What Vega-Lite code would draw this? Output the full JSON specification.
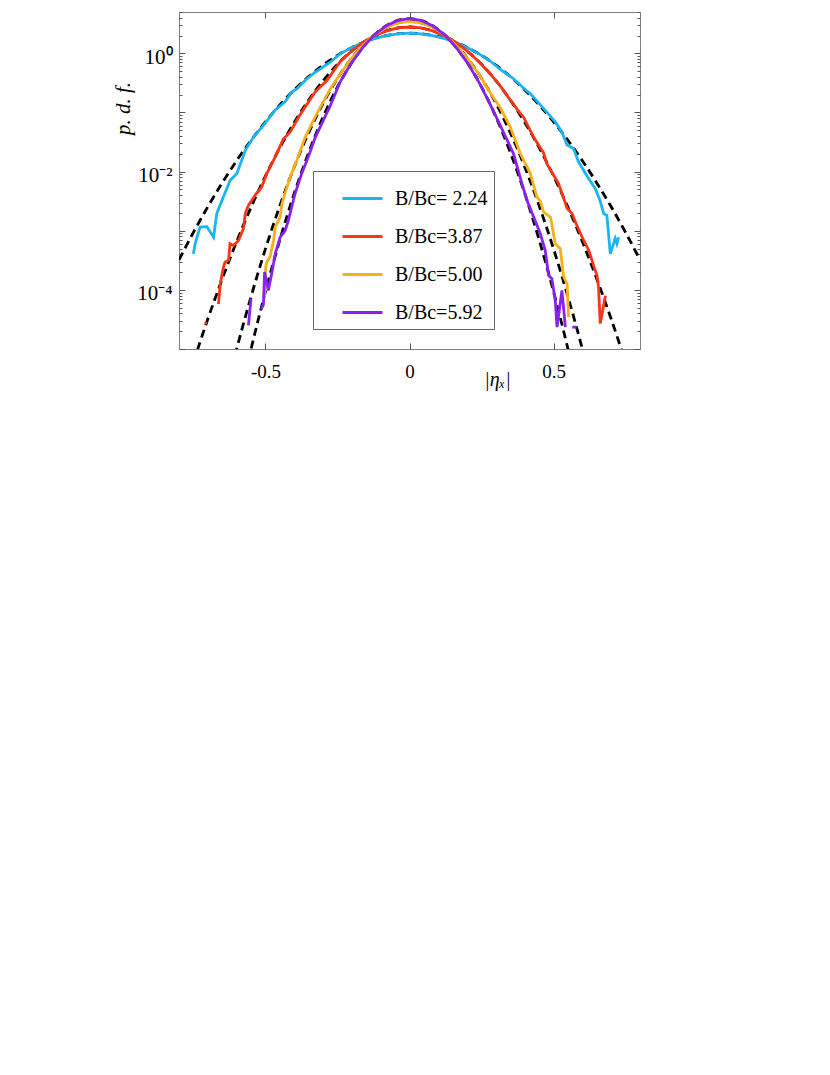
{
"$schema": "https://vega.github.io/schema/vega-lite/v6.json",
"width": 461, "height": 337,
"autosize": {"type": "none"},
"padding": {"left": 179, "top": 12, "right": 190, "bottom": 726},
"background": "white",
"config": {"view": {"stroke": "#808080", "strokeWidth": 1}, "font": "Liberation Serif"},
"datasets": {
"fits": [
{"f":"b","x":-0.8,"p":3.21e-4},{"f":"b","x":-0.75,"p":9.35e-4},{"f":"b","x":-0.7,"p":2.54e-3},{"f":"b","x":-0.65,"p":6.44e-3},{"f":"b","x":-0.6,"p":0.0153},{"f":"b","x":-0.55,"p":0.0337},{"f":"b","x":-0.5,"p":0.0695},{"f":"b","x":-0.45,"p":0.134},{"f":"b","x":-0.4,"p":0.241},{"f":"b","x":-0.35,"p":0.404},{"f":"b","x":-0.3,"p":0.632},{"f":"b","x":-0.25,"p":0.925},{"f":"b","x":-0.2,"p":1.26},{"f":"b","x":-0.15,"p":1.60},{"f":"b","x":-0.1,"p":1.91},{"f":"b","x":-0.05,"p":2.11},{"f":"b","x":0,"p":2.19},
{"f":"b","x":0.05,"p":2.11},{"f":"b","x":0.1,"p":1.91},{"f":"b","x":0.15,"p":1.60},{"f":"b","x":0.2,"p":1.26},{"f":"b","x":0.25,"p":0.925},{"f":"b","x":0.3,"p":0.632},{"f":"b","x":0.35,"p":0.404},{"f":"b","x":0.4,"p":0.241},{"f":"b","x":0.45,"p":0.134},{"f":"b","x":0.5,"p":0.0695},{"f":"b","x":0.55,"p":0.0337},{"f":"b","x":0.6,"p":0.0153},{"f":"b","x":0.65,"p":6.44e-3},{"f":"b","x":0.7,"p":2.54e-3},{"f":"b","x":0.75,"p":9.35e-4},{"f":"b","x":0.8,"p":3.21e-4},
{"f":"r","x":-0.75,"p":5.96e-6},{"f":"r","x":-0.7,"p":3.21e-5},{"f":"r","x":-0.65,"p":1.53e-4},{"f":"r","x":-0.6,"p":6.55e-4},{"f":"r","x":-0.55,"p":2.49e-3},{"f":"r","x":-0.5,"p":8.41e-3},{"f":"r","x":-0.45,"p":0.0254},{"f":"r","x":-0.4,"p":0.0679},{"f":"r","x":-0.35,"p":0.162},{"f":"r","x":-0.3,"p":0.345},{"f":"r","x":-0.25,"p":0.653},{"f":"r","x":-0.2,"p":1.10},{"f":"r","x":-0.15,"p":1.65},{"f":"r","x":-0.1,"p":2.21},{"f":"r","x":-0.05,"p":2.63},{"f":"r","x":0,"p":2.79},
{"f":"r","x":0.05,"p":2.63},{"f":"r","x":0.1,"p":2.21},{"f":"r","x":0.15,"p":1.65},{"f":"r","x":0.2,"p":1.10},{"f":"r","x":0.25,"p":0.653},{"f":"r","x":0.3,"p":0.345},{"f":"r","x":0.35,"p":0.162},{"f":"r","x":0.4,"p":0.0679},{"f":"r","x":0.45,"p":0.0254},{"f":"r","x":0.5,"p":8.41e-3},{"f":"r","x":0.55,"p":2.49e-3},{"f":"r","x":0.6,"p":6.55e-4},{"f":"r","x":0.65,"p":1.53e-4},{"f":"r","x":0.7,"p":3.21e-5},{"f":"r","x":0.75,"p":5.96e-6},
{"f":"o","x":-0.65,"p":1.09e-6},{"f":"o","x":-0.6,"p":1.0e-5},{"f":"o","x":-0.55,"p":7.66e-5},{"f":"o","x":-0.5,"p":4.92e-4},{"f":"o","x":-0.45,"p":2.65e-3},{"f":"o","x":-0.4,"p":0.012},{"f":"o","x":-0.35,"p":0.0452},{"f":"o","x":-0.3,"p":0.143},{"f":"o","x":-0.25,"p":0.378},{"f":"o","x":-0.2,"p":0.84},{"f":"o","x":-0.15,"p":1.56},{"f":"o","x":-0.1,"p":2.43},{"f":"o","x":-0.05,"p":3.18},{"f":"o","x":0,"p":3.47},
{"f":"o","x":0.05,"p":3.18},{"f":"o","x":0.1,"p":2.43},{"f":"o","x":0.15,"p":1.56},{"f":"o","x":0.2,"p":0.84},{"f":"o","x":0.25,"p":0.378},{"f":"o","x":0.3,"p":0.143},{"f":"o","x":0.35,"p":0.0452},{"f":"o","x":0.4,"p":0.012},{"f":"o","x":0.45,"p":2.65e-3},{"f":"o","x":0.5,"p":4.92e-4},{"f":"o","x":0.55,"p":7.66e-5},{"f":"o","x":0.6,"p":1.0e-5},{"f":"o","x":0.65,"p":1.09e-6},
{"f":"p","x":-0.6,"p":8.65e-7},{"f":"p","x":-0.55,"p":9.98e-6},{"f":"p","x":-0.5,"p":9.29e-5},{"f":"p","x":-0.45,"p":7.01e-4},{"f":"p","x":-0.4,"p":4.28e-3},{"f":"p","x":-0.35,"p":0.021},{"f":"p","x":-0.3,"p":0.0839},{"f":"p","x":-0.25,"p":0.27},{"f":"p","x":-0.2,"p":0.703},{"f":"p","x":-0.15,"p":1.48},{"f":"p","x":-0.1,"p":2.52},{"f":"p","x":-0.05,"p":3.47},{"f":"p","x":0,"p":3.85},
{"f":"p","x":0.05,"p":3.47},{"f":"p","x":0.1,"p":2.52},{"f":"p","x":0.15,"p":1.48},{"f":"p","x":0.2,"p":0.703},{"f":"p","x":0.25,"p":0.27},{"f":"p","x":0.3,"p":0.0839},{"f":"p","x":0.35,"p":0.021},{"f":"p","x":0.4,"p":4.28e-3},{"f":"p","x":0.45,"p":7.01e-4},{"f":"p","x":0.5,"p":9.29e-5},{"f":"p","x":0.55,"p":9.98e-6},{"f":"p","x":0.6,"p":8.65e-7}
],
"pdf": [
{"s":"B/Bc= 2.24","g":"b","x":-0.750,"p":4.07e-4},{"s":"B/Bc= 2.24","g":"b","x":-0.744,"p":6.03e-4},{"s":"B/Bc= 2.24","g":"b","x":-0.727,"p":1.15e-3},{"s":"B/Bc= 2.24","g":"b","x":-0.703,"p":1.17e-3},{"s":"B/Bc= 2.24","g":"b","x":-0.680,"p":7.76e-4},{"s":"B/Bc= 2.24","g":"b","x":-0.669,"p":1.95e-3},{"s":"B/Bc= 2.24","g":"b","x":-0.651,"p":3.24e-3},{"s":"B/Bc= 2.24","g":"b","x":-0.623,"p":7.08e-3},{"s":"B/Bc= 2.24","g":"b","x":-0.599,"p":9.33e-3},{"s":"B/Bc= 2.24","g":"b","x":-0.570,"p":0.0229},{"s":"B/Bc= 2.24","g":"b","x":-0.542,"p":0.038},{"s":"B/Bc= 2.24","g":"b","x":-0.507,"p":0.0603},{"s":"B/Bc= 2.24","g":"b","x":-0.466,"p":0.110},{"s":"B/Bc= 2.24","g":"b","x":-0.432,"p":0.151},{"s":"B/Bc= 2.24","g":"b","x":-0.408,"p":0.224},{"s":"B/Bc= 2.24","g":"b","x":-0.391,"p":0.251},{"s":"B/Bc= 2.24","g":"b","x":-0.356,"p":0.372},{"s":"B/Bc= 2.24","g":"b","x":-0.327,"p":0.479},{"s":"B/Bc= 2.24","g":"b","x":-0.275,"p":0.708},{"s":"B/Bc= 2.24","g":"b","x":-0.24,"p":0.989},{"s":"B/Bc= 2.24","g":"b","x":-0.2,"p":1.26},{"s":"B/Bc= 2.24","g":"b","x":-0.16,"p":1.54},{"s":"B/Bc= 2.24","g":"b","x":-0.12,"p":1.79},{"s":"B/Bc= 2.24","g":"b","x":-0.08,"p":2.00},{"s":"B/Bc= 2.24","g":"b","x":-0.04,"p":2.14},{"s":"B/Bc= 2.24","g":"b","x":0,"p":2.19},{"s":"B/Bc= 2.24","g":"b","x":0.04,"p":2.14},{"s":"B/Bc= 2.24","g":"b","x":0.08,"p":2.00},{"s":"B/Bc= 2.24","g":"b","x":0.12,"p":1.79},{"s":"B/Bc= 2.24","g":"b","x":0.16,"p":1.54},{"s":"B/Bc= 2.24","g":"b","x":0.2,"p":1.26},{"s":"B/Bc= 2.24","g":"b","x":0.24,"p":0.989},{"s":"B/Bc= 2.24","g":"b","x":0.28,"p":0.741},{"s":"B/Bc= 2.24","g":"b","x":0.315,"p":0.537},{"s":"B/Bc= 2.24","g":"b","x":0.361,"p":0.372},{"s":"B/Bc= 2.24","g":"b","x":0.408,"p":0.229},{"s":"B/Bc= 2.24","g":"b","x":0.419,"p":0.209},{"s":"B/Bc= 2.24","g":"b","x":0.465,"p":0.117},{"s":"B/Bc= 2.24","g":"b","x":0.506,"p":0.0692},{"s":"B/Bc= 2.24","g":"b","x":0.529,"p":0.0468},{"s":"B/Bc= 2.24","g":"b","x":0.547,"p":0.0282},{"s":"B/Bc= 2.24","g":"b","x":0.569,"p":0.0245},{"s":"B/Bc= 2.24","g":"b","x":0.587,"p":0.0145},{"s":"B/Bc= 2.24","g":"b","x":0.622,"p":7.59e-3},{"s":"B/Bc= 2.24","g":"b","x":0.645,"p":5.13e-3},{"s":"B/Bc= 2.24","g":"b","x":0.662,"p":3.16e-3},{"s":"B/Bc= 2.24","g":"b","x":0.674,"p":1.95e-3},{"s":"B/Bc= 2.24","g":"b","x":0.685,"p":1.82e-3},{"s":"B/Bc= 2.24","g":"b","x":0.697,"p":4.07e-4},{"s":"B/Bc= 2.24","g":"b","x":0.714,"p":7.41e-4},{"s":"B/Bc= 2.24","g":"b","x":0.720,"p":6.03e-4},{"s":"B/Bc= 2.24","g":"b","x":0.726,"p":7.76e-4},
{"s":"B/Bc=3.87","g":"r2","x":-0.709,"p":2.63e-5},{"s":"B/Bc=3.87","g":"r2","x":-0.705,"p":2.88e-5},
{"s":"B/Bc=3.87","g":"r","x":-0.663,"p":5.75e-5},{"s":"B/Bc=3.87","g":"r","x":-0.657,"p":1.26e-4},{"s":"B/Bc=3.87","g":"r","x":-0.646,"p":2.40e-4},{"s":"B/Bc=3.87","g":"r","x":-0.640,"p":2.95e-4},{"s":"B/Bc=3.87","g":"r","x":-0.628,"p":3.16e-4},{"s":"B/Bc=3.87","g":"r","x":-0.623,"p":6.03e-4},{"s":"B/Bc=3.87","g":"r","x":-0.611,"p":5.62e-4},{"s":"B/Bc=3.87","g":"r","x":-0.594,"p":6.76e-4},{"s":"B/Bc=3.87","g":"r","x":-0.576,"p":1.10e-3},{"s":"B/Bc=3.87","g":"r","x":-0.570,"p":1.95e-3},{"s":"B/Bc=3.87","g":"r","x":-0.559,"p":2.69e-3},{"s":"B/Bc=3.87","g":"r","x":-0.536,"p":3.98e-3},{"s":"B/Bc=3.87","g":"r","x":-0.513,"p":5.50e-3},{"s":"B/Bc=3.87","g":"r","x":-0.495,"p":9.33e-3},{"s":"B/Bc=3.87","g":"r","x":-0.466,"p":0.0178},{"s":"B/Bc=3.87","g":"r","x":-0.438,"p":0.0355},{"s":"B/Bc=3.87","g":"r","x":-0.414,"p":0.0468},{"s":"B/Bc=3.87","g":"r","x":-0.385,"p":0.0832},{"s":"B/Bc=3.87","g":"r","x":-0.356,"p":0.138},{"s":"B/Bc=3.87","g":"r","x":-0.327,"p":0.224},{"s":"B/Bc=3.87","g":"r","x":-0.287,"p":0.347},{"s":"B/Bc=3.87","g":"r","x":-0.24,"p":0.731},{"s":"B/Bc=3.87","g":"r","x":-0.2,"p":1.10},{"s":"B/Bc=3.87","g":"r","x":-0.16,"p":1.54},{"s":"B/Bc=3.87","g":"r","x":-0.12,"p":2.00},{"s":"B/Bc=3.87","g":"r","x":-0.08,"p":2.40},{"s":"B/Bc=3.87","g":"r","x":-0.04,"p":2.69},{"s":"B/Bc=3.87","g":"r","x":0,"p":2.79},{"s":"B/Bc=3.87","g":"r","x":0.04,"p":2.69},{"s":"B/Bc=3.87","g":"r","x":0.08,"p":2.40},{"s":"B/Bc=3.87","g":"r","x":0.12,"p":2.00},{"s":"B/Bc=3.87","g":"r","x":0.16,"p":1.54},{"s":"B/Bc=3.87","g":"r","x":0.2,"p":1.10},{"s":"B/Bc=3.87","g":"r","x":0.24,"p":0.731},{"s":"B/Bc=3.87","g":"r","x":0.28,"p":0.452},{"s":"B/Bc=3.87","g":"r","x":0.315,"p":0.282},{"s":"B/Bc=3.87","g":"r","x":0.35,"p":0.162},{"s":"B/Bc=3.87","g":"r","x":0.385,"p":0.0955},{"s":"B/Bc=3.87","g":"r","x":0.396,"p":0.0832},{"s":"B/Bc=3.87","g":"r","x":0.431,"p":0.038},{"s":"B/Bc=3.87","g":"r","x":0.465,"p":0.0209},{"s":"B/Bc=3.87","g":"r","x":0.477,"p":0.0135},{"s":"B/Bc=3.87","g":"r","x":0.517,"p":6.31e-3},{"s":"B/Bc=3.87","g":"r","x":0.535,"p":3.55e-3},{"s":"B/Bc=3.87","g":"r","x":0.547,"p":2.40e-3},{"s":"B/Bc=3.87","g":"r","x":0.564,"p":1.95e-3},{"s":"B/Bc=3.87","g":"r","x":0.581,"p":1.23e-3},{"s":"B/Bc=3.87","g":"r","x":0.599,"p":7.76e-4},{"s":"B/Bc=3.87","g":"r","x":0.622,"p":4.68e-4},{"s":"B/Bc=3.87","g":"r","x":0.639,"p":2.57e-4},{"s":"B/Bc=3.87","g":"r","x":0.651,"p":1.74e-4},{"s":"B/Bc=3.87","g":"r","x":0.656,"p":1.12e-4},{"s":"B/Bc=3.87","g":"r","x":0.662,"p":2.69e-5},{"s":"B/Bc=3.87","g":"r","x":0.680,"p":7.94e-5},
{"s":"B/Bc=5.00","g":"o","x":-0.503,"p":7.59e-5},{"s":"B/Bc=5.00","g":"o","x":-0.499,"p":2.45e-4},{"s":"B/Bc=5.00","g":"o","x":-0.495,"p":2.95e-4},{"s":"B/Bc=5.00","g":"o","x":-0.484,"p":3.63e-4},{"s":"B/Bc=5.00","g":"o","x":-0.472,"p":6.76e-4},{"s":"B/Bc=5.00","g":"o","x":-0.466,"p":1.15e-3},{"s":"B/Bc=5.00","g":"o","x":-0.449,"p":1.70e-3},{"s":"B/Bc=5.00","g":"o","x":-0.443,"p":2.82e-3},{"s":"B/Bc=5.00","g":"o","x":-0.432,"p":4.27e-3},{"s":"B/Bc=5.00","g":"o","x":-0.414,"p":8.13e-3},{"s":"B/Bc=5.00","g":"o","x":-0.391,"p":0.0155},{"s":"B/Bc=5.00","g":"o","x":-0.362,"p":0.038},{"s":"B/Bc=5.00","g":"o","x":-0.327,"p":0.0851},{"s":"B/Bc=5.00","g":"o","x":-0.275,"p":0.25},{"s":"B/Bc=5.00","g":"o","x":-0.24,"p":0.451},{"s":"B/Bc=5.00","g":"o","x":-0.2,"p":0.840},{"s":"B/Bc=5.00","g":"o","x":-0.16,"p":1.40},{"s":"B/Bc=5.00","g":"o","x":-0.12,"p":2.08},{"s":"B/Bc=5.00","g":"o","x":-0.08,"p":2.77},{"s":"B/Bc=5.00","g":"o","x":-0.04,"p":3.27},{"s":"B/Bc=5.00","g":"o","x":0,"p":3.47},{"s":"B/Bc=5.00","g":"o","x":0.04,"p":3.27},{"s":"B/Bc=5.00","g":"o","x":0.08,"p":2.77},{"s":"B/Bc=5.00","g":"o","x":0.12,"p":2.08},{"s":"B/Bc=5.00","g":"o","x":0.16,"p":1.40},{"s":"B/Bc=5.00","g":"o","x":0.2,"p":0.840},{"s":"B/Bc=5.00","g":"o","x":0.24,"p":0.451},{"s":"B/Bc=5.00","g":"o","x":0.28,"p":0.215},{"s":"B/Bc=5.00","g":"o","x":0.315,"p":0.120},{"s":"B/Bc=5.00","g":"o","x":0.350,"p":0.0562},{"s":"B/Bc=5.00","g":"o","x":0.385,"p":0.020},{"s":"B/Bc=5.00","g":"o","x":0.419,"p":9.33e-3},{"s":"B/Bc=5.00","g":"o","x":0.442,"p":3.72e-3},{"s":"B/Bc=5.00","g":"o","x":0.454,"p":3.16e-3},{"s":"B/Bc=5.00","g":"o","x":0.465,"p":2.09e-3},{"s":"B/Bc=5.00","g":"o","x":0.489,"p":1.70e-3},{"s":"B/Bc=5.00","g":"o","x":0.506,"p":6.03e-4},{"s":"B/Bc=5.00","g":"o","x":0.523,"p":5.01e-4},{"s":"B/Bc=5.00","g":"o","x":0.535,"p":1.66e-4},{"s":"B/Bc=5.00","g":"o","x":0.547,"p":1.26e-4},{"s":"B/Bc=5.00","g":"o","x":0.552,"p":3.47e-5},
{"s":"B/Bc=5.92","g":"p2","x":-0.559,"p":2.51e-5},{"s":"B/Bc=5.92","g":"p2","x":-0.550,"p":7.08e-5},
{"s":"B/Bc=5.92","g":"p","x":-0.515,"p":4.68e-5},{"s":"B/Bc=5.92","g":"p","x":-0.507,"p":5.62e-5},{"s":"B/Bc=5.92","g":"p","x":-0.503,"p":2.0e-4},{"s":"B/Bc=5.92","g":"p","x":-0.490,"p":9.77e-5},{"s":"B/Bc=5.92","g":"p","x":-0.478,"p":1.91e-4},{"s":"B/Bc=5.92","g":"p","x":-0.466,"p":4.07e-4},{"s":"B/Bc=5.92","g":"p","x":-0.449,"p":7.76e-4},{"s":"B/Bc=5.92","g":"p","x":-0.432,"p":1.0e-3},{"s":"B/Bc=5.92","g":"p","x":-0.420,"p":1.51e-3},{"s":"B/Bc=5.92","g":"p","x":-0.410,"p":2.40e-3},{"s":"B/Bc=5.92","g":"p","x":-0.397,"p":4.27e-3},{"s":"B/Bc=5.92","g":"p","x":-0.374,"p":9.33e-3},{"s":"B/Bc=5.92","g":"p","x":-0.351,"p":0.0178},{"s":"B/Bc=5.92","g":"p","x":-0.327,"p":0.038},{"s":"B/Bc=5.92","g":"p","x":-0.275,"p":0.13},{"s":"B/Bc=5.92","g":"p","x":-0.24,"p":0.333},{"s":"B/Bc=5.92","g":"p","x":-0.2,"p":0.703},{"s":"B/Bc=5.92","g":"p","x":-0.16,"p":1.30},{"s":"B/Bc=5.92","g":"p","x":-0.12,"p":2.09},{"s":"B/Bc=5.92","g":"p","x":-0.08,"p":2.94},{"s":"B/Bc=5.92","g":"p","x":-0.04,"p":3.60},{"s":"B/Bc=5.92","g":"p","x":0,"p":3.85},{"s":"B/Bc=5.92","g":"p","x":0.04,"p":3.60},{"s":"B/Bc=5.92","g":"p","x":0.08,"p":2.94},{"s":"B/Bc=5.92","g":"p","x":0.12,"p":2.09},{"s":"B/Bc=5.92","g":"p","x":0.16,"p":1.30},{"s":"B/Bc=5.92","g":"p","x":0.2,"p":0.703},{"s":"B/Bc=5.92","g":"p","x":0.24,"p":0.333},{"s":"B/Bc=5.92","g":"p","x":0.28,"p":0.137},{"s":"B/Bc=5.92","g":"p","x":0.315,"p":0.0603},{"s":"B/Bc=5.92","g":"p","x":0.361,"p":0.020},{"s":"B/Bc=5.92","g":"p","x":0.390,"p":6.31e-3},{"s":"B/Bc=5.92","g":"p","x":0.408,"p":3.24e-3},{"s":"B/Bc=5.92","g":"p","x":0.431,"p":1.70e-3},{"s":"B/Bc=5.92","g":"p","x":0.454,"p":8.91e-4},{"s":"B/Bc=5.92","g":"p","x":0.471,"p":4.68e-4},{"s":"B/Bc=5.92","g":"p","x":0.483,"p":1.74e-4},{"s":"B/Bc=5.92","g":"p","x":0.494,"p":1.55e-4},{"s":"B/Bc=5.92","g":"p","x":0.506,"p":6.61e-5},{"s":"B/Bc=5.92","g":"p","x":0.512,"p":2.34e-5},{"s":"B/Bc=5.92","g":"p","x":0.529,"p":9.77e-5},{"s":"B/Bc=5.92","g":"p","x":0.541,"p":2.34e-5},
{"s":"B/Bc=5.92","g":"p3","x":0.565,"p":2.34e-5},{"s":"B/Bc=5.92","g":"p3","x":0.580,"p":2.34e-5}
]
},
"layer": [
{
"data": {"name": "fits"},
"mark": {"type": "line", "stroke": "black", "strokeWidth": 2.8, "strokeDash": [8, 5], "clip": true, "interpolate": "monotone"},
"encoding": {
"x": {"field": "x", "type": "quantitative", "scale": {"domain": [-0.8, 0.8], "nice": false, "zero": false},
"axis": {"orient": "bottom", "values": [-0.5, 0, 0.5], "labelExpr": "datum.value < 0 ? '-0.5' : (datum.value > 0 ? '0.5' : '0')", "tickSize": -6, "tickColor": "#555", "domain": false, "grid": false, "labelFont": "Liberation Serif", "labelFontSize": 19, "labelColor": "black", "labelPadding": 19, "title": "|ηₓ|", "titleFont": "Liberation Serif", "titleFontStyle": "italic", "titleFontWeight": "normal", "titleFontSize": 20, "titleColor": "black", "titleX": 318, "titleY": 20, "titleBaseline": "top", "titleAlign": "center"}},
"y": {"field": "p", "type": "quantitative", "scale": {"type": "log", "domain": [1e-5, 5], "nice": false},
"axis": {"orient": "left", "values": [1e-5,2e-5,3e-5,4e-5,5e-5,6e-5,7e-5,8e-5,9e-5,1e-4,2e-4,3e-4,4e-4,5e-4,6e-4,7e-4,8e-4,9e-4,1e-3,2e-3,3e-3,4e-3,5e-3,6e-3,7e-3,8e-3,9e-3,0.01,0.02,0.03,0.04,0.05,0.06,0.07,0.08,0.09,0.1,0.2,0.3,0.4,0.5,0.6,0.7,0.8,0.9,1,2,3,4,5],
"labelExpr": "abs(log(datum.value)/LN10) < 0.001 ? '10⁰' : (abs(log(datum.value)/LN10 + 2) < 0.001 ? '10⁻²' : (abs(log(datum.value)/LN10 + 4) < 0.001 ? '10⁻⁴' : ''))",
"labelOverlap": false,
"tickSize": {"condition": {"test": "abs(log(datum.value)/LN10 - round(log(datum.value)/LN10)) < 0.001", "value": -6}, "value": -3},
"tickColor": "#555", "domain": false, "grid": false, "labelFont": "Liberation Serif", "labelFontSize": 21, "labelColor": "black", "labelPadding": 13, "labelOffset": 4,
"title": "p. d. f.", "titleFont": "Liberation Serif", "titleFontStyle": "italic", "titleFontWeight": "normal", "titleFontSize": 21, "titleColor": "black", "titleX": -56, "titleY": 96, "titleAngle": -90, "titleAlign": "center", "titleBaseline": "middle"}},
"detail": {"field": "f"}
}
},
{
"data": {"name": "pdf"},
"mark": {"type": "line", "strokeWidth": 2.8, "clip": true},
"encoding": {
"x": {"field": "x", "type": "quantitative",
"axis": {"orient": "top", "values": [-0.5, 0, 0.5], "labels": false, "tickSize": -6, "tickColor": "#555", "domain": false, "grid": false, "title": null}},
"y": {"field": "p", "type": "quantitative",
"axis": {"orient": "right", "values": [1e-5,2e-5,3e-5,4e-5,5e-5,6e-5,7e-5,8e-5,9e-5,1e-4,2e-4,3e-4,4e-4,5e-4,6e-4,7e-4,8e-4,9e-4,1e-3,2e-3,3e-3,4e-3,5e-3,6e-3,7e-3,8e-3,9e-3,0.01,0.02,0.03,0.04,0.05,0.06,0.07,0.08,0.09,0.1,0.2,0.3,0.4,0.5,0.6,0.7,0.8,0.9,1,2,3,4,5],
"labels": false,
"tickSize": {"condition": {"test": "abs(log(datum.value)/LN10 - round(log(datum.value)/LN10)) < 0.001", "value": -6}, "value": -3},
"tickColor": "#555", "domain": false, "grid": false, "title": null}},
"color": {"field": "s", "type": "nominal",
"scale": {"domain": ["B/Bc= 2.24", "B/Bc=3.87", "B/Bc=5.00", "B/Bc=5.92"], "range": ["#1AB4F2", "#FA3416", "#F7AF1A", "#8A22EE"]},
"legend": {"orient": "none", "legendX": 134, "legendY": 159, "title": null, "strokeColor": "#666", "fillColor": "white", "padding": 6, "symbolType": "stroke", "symbolSize": 1600, "symbolStrokeWidth": 3, "symbolOffset": 22, "labelFont": "Liberation Serif", "labelFontSize": 20, "labelColor": "black", "labelOffset": 11, "rowPadding": 6, "labelLimit": 400, "labelExpr": "datum.label + '\u00a0\u00a0\u00a0\u00a0\u00a0\u00a0\u00a0'"}},
"detail": {"field": "g"}
}
}
],
"resolve": {"axis": {"x": "independent", "y": "independent"}}
}
